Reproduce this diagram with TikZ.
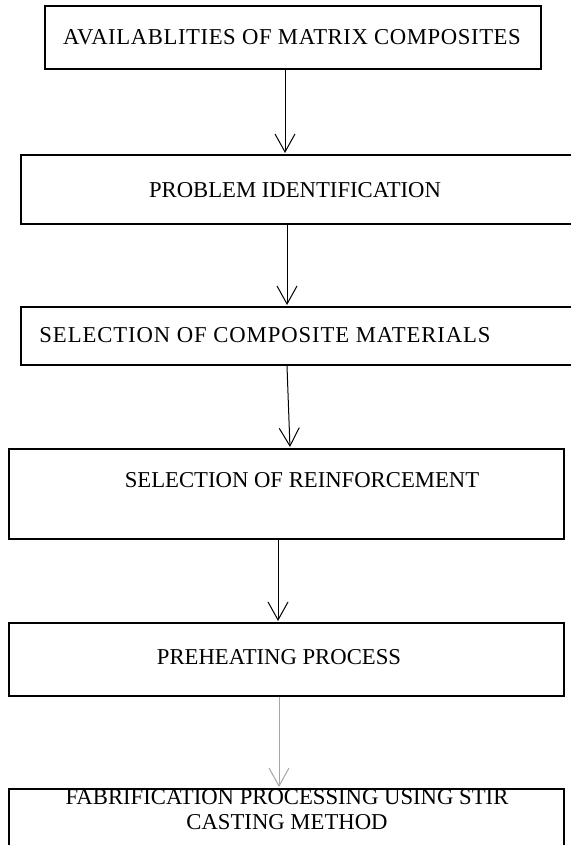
\documentclass[tikz,border=0pt]{standalone}
\usepackage{fontspec}
\setmainfont{Liberation Serif}
\usetikzlibrary{arrows.meta}
\begin{document}
\begin{tikzpicture}[x=1pt,y=-1pt,
  stepbox/.style={draw, line width=2pt, inner sep=0pt, anchor=north west},
  steptext/.style={font=\fontsize{22.7}{25}\selectfont, inner sep=0pt, align=center},
  flow/.style={line width=1pt, shorten >=1pt, -{Straight Barb[length=18pt,width=20pt]}}]
\useasboundingbox (0,0) rectangle (570,845);

% process boxes
\node[stepbox, minimum width=496pt, minimum height=63pt] (b1) at (44,5) {};
\node[stepbox, minimum width=556pt, minimum height=69pt] (b2) at (20,154) {};
\node[stepbox, minimum width=556pt, minimum height=58pt] (b3) at (20,306) {};
\node[stepbox, minimum width=555pt, minimum height=90pt] (b4) at (8,448) {};
\node[stepbox, minimum width=555pt, minimum height=73pt] (b5) at (8,622) {};
\node[stepbox, minimum width=555pt, minimum height=70pt] (b6) at (8,788) {};

% box texts
\node[steptext] (t1) at (292,37) {\addfontfeature{LetterSpace=2.6}AVAILABLITIES OF MATRIX COMPOSITES};
\node[steptext] (t2) at (295,190) {PROBLEM IDENTIFICATION};
\node[steptext] (t3) at (265,335) {\addfontfeature{LetterSpace=4}SELECTION OF COMPOSITE MATERIALS};
\node[steptext] (t4) at (302,480) {SELECTION OF REINFORCEMENT};
\node[steptext] (t5) at (279,657) {PREHEATING PROCESS};
\node[steptext] (t6) at (287,810) {FABRIFICATION PROCESSING USING STIR\\CASTING METHOD};

% connectors
\draw[flow] ([xshift=-8pt]b1.south) -- ([xshift=-14pt]b2.north);
\draw[flow] ([xshift=-12pt]b2.south) -- ([xshift=-12pt]b3.north);
\draw[flow] ([xshift=-12pt]b3.south) -- ([xshift=3.5pt]b4.north);
\draw[flow] ([xshift=-8.5pt]b4.south) -- ([xshift=-8.5pt]b5.north);
\draw[flow, draw=gray!70] ([xshift=-7.5pt]b5.south) -- ([xshift=-7.5pt]b6.north);
\end{tikzpicture}
\end{document}
